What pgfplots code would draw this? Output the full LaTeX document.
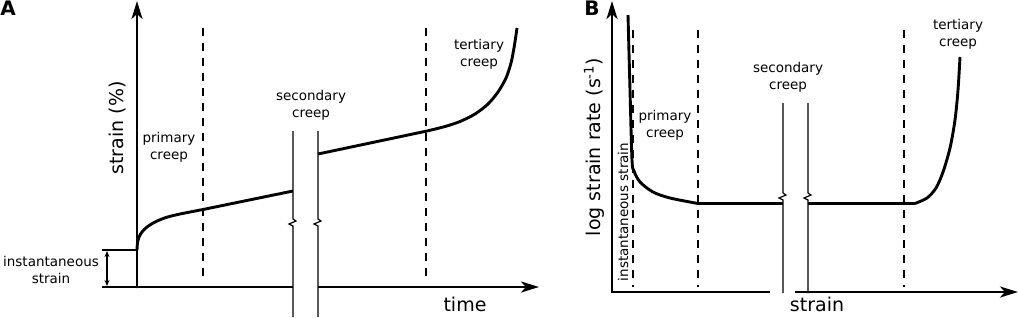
\documentclass[border=0pt]{standalone}
\usepackage{pgfplots}
\pgfplotsset{compat=1.18}
\usepackage{fontspec}
\setmainfont{DejaVu Sans}
\usetikzlibrary{arrows.meta}
\begin{document}
\begin{tikzpicture}[
  ax/.style={line width=2.8pt},
  crv/.style={line width=2.9pt, black},
  thin/.style={line width=1.2pt},
  dsh/.style={line width=1.2pt, dash pattern=on 7.5pt off 7.5pt},
  lab/.style={font=\fontsize{13.5}{17}\selectfont, align=center},
  big/.style={font=\fontsize{19}{22}\selectfont},
  arr/.style={-{Stealth[length=18pt,width=11pt,inset=5pt]}}
]
\begin{axis}[scale only axis, width=1019pt, height=317pt,
  xmin=0, xmax=1019, ymin=0, ymax=317, y dir=reverse,
  axis lines=none, clip=false]

% ---------------- Panel A ----------------
\draw[dsh] (203,28) -- (203,282);
\draw[dsh] (426,28) -- (426,282);
\draw[ax, arr] (137,288) -- (137,1);
\draw[ax] (136,287) -- (293,287);
\draw[ax, arr] (318,287) -- (539,287);
\draw[thin] (293,131) -- (293,219) -- (296,221) -- (289,224) -- (293,226) -- (293,317);
\draw[thin] (318,131) -- (318,219) -- (321,221) -- (314,224) -- (318,226) -- (318,317);
\draw[thin] (102,250) -- (137,250);
\draw[thin] (102,287) -- (137,287);
\draw[thin, {Stealth[length=6pt,width=5pt]}-{Stealth[length=6pt,width=5pt]}] (107,251) -- (107,286);
\addplot[crv, line cap=round] coordinates {(137,287) (137,250)};
\addplot[crv, smooth, tension=0.5] coordinates {(137,250) (137.5,243) (139,237) (142,232) (147,227) (155,222) (166,217.5) (180,214) (203,209.5)};
\addplot[crv] coordinates {(203,209.5) (293,191)};
\addplot[crv] coordinates {(318,154) (427,131)};
\addplot[crv, smooth, tension=0.5] coordinates {(427,131) (445,126.5) (460,121.5) (475,114) (488,104) (498,92) (506,78) (511,63) (514,48) (516,35) (517,28)};
\node[font=\bfseries\fontsize{20}{22}\selectfont] at (8,8) {A};
\node[big, rotate=90] at (118,128) {strain (\%)};
\node[lab] at (169,147) {primary\\creep};
\node[lab] at (311,105) {secondary\\creep};
\node[lab] at (479,54) {tertiary\\creep};
\node[lab] at (51,270) {instantaneous\\strain};
\node[big] at (465,304) {time};

% ---------------- Panel B ----------------
\draw[dsh] (633,30) -- (633,287);
\draw[dsh] (698,30) -- (698,287);
\draw[dsh] (904,30) -- (904,287);
\draw[ax, arr] (612,293) -- (612,1);
\draw[ax] (611,292) -- (770,292);
\draw[ax, arr] (795,292) -- (1018,292);
\draw[thin] (783,103) -- (783,193) -- (786,195) -- (779,198) -- (783,200) -- (783,293);
\draw[thin] (808,103) -- (808,193) -- (811,195) -- (804,198) -- (808,200) -- (808,293);
\addplot[crv, smooth, tension=0.5] coordinates {(628,15) (630,90) (632,160) (634,171) (640,182) (653,192) (670,198) (698,203.5)};
\addplot[crv] coordinates {(698,203.5) (783,203.5)};
\addplot[crv] coordinates {(808,203.5) (915,203.5)};
\addplot[crv, smooth, tension=0.5] coordinates {(915,203.5) (927,198) (936,188) (943,172) (950,148) (955,120) (958,90) (960,57)};
\node[font=\bfseries\fontsize{20}{22}\selectfont] at (592,8) {B};
\node[big, rotate=90] at (594,147) {log strain rate (s\textsuperscript{-1})};
\node[lab, rotate=90] at (623,212) {instantaneous strain};
\node[lab] at (665,125) {primary\\creep};
\node[lab] at (788,77) {secondary\\creep};
\node[lab] at (958,34) {tertiary\\creep};
\node[big] at (817,304) {strain};
\end{axis}
\pgfresetboundingbox
\path (0,0) rectangle (1019pt,317pt);
\end{tikzpicture}
\end{document}
